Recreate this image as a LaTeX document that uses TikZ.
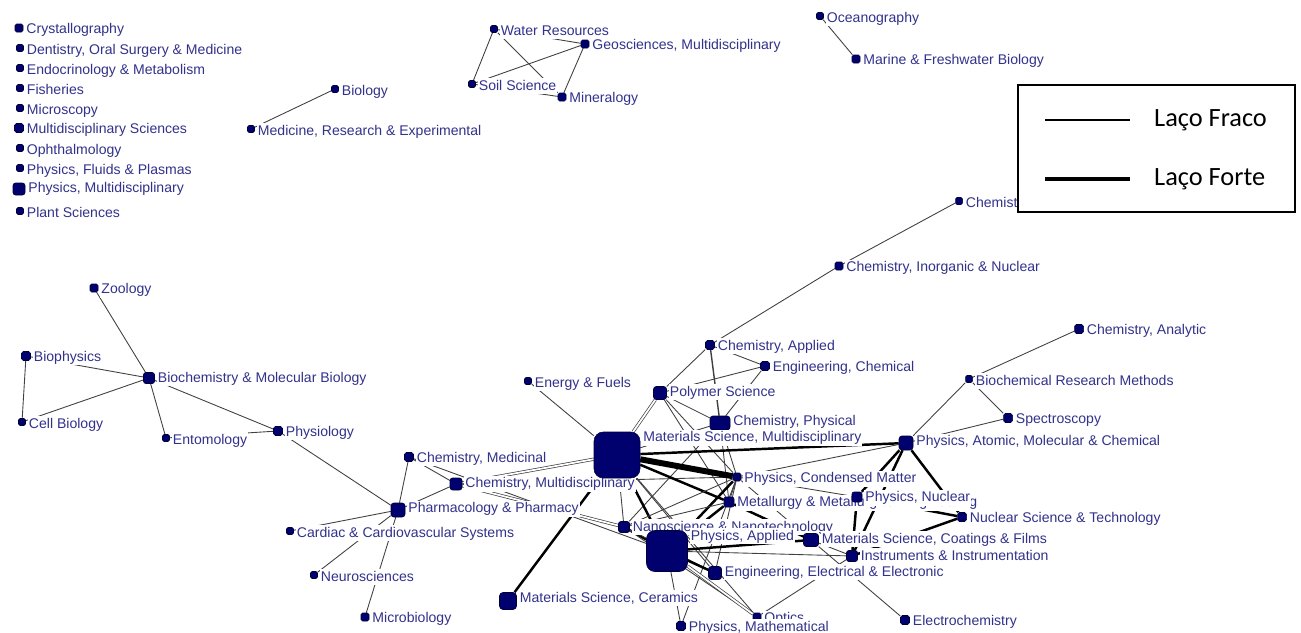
\documentclass[tikz,border=0pt]{standalone}
\usepackage{fontspec}
\setmainfont{Liberation Sans}
\newfontfamily\legfont{Carlito}
\usetikzlibrary{positioning}

\definecolor{azul}{RGB}{0,0,110}
\definecolor{texto}{RGB}{50,50,140}

\pgfdeclarelayer{fundo}
\pgfsetlayers{fundo,main}

\tikzset{
  sq/.style={rectangle, fill=azul, draw=azul!50!black, line width=0.3pt, inner sep=0pt,
    minimum size=#1*0.02cm, rounded corners=#1*0.004cm},
  rot/.style={anchor=west, xshift=1pt, yshift=-3.5pt, fill=white, inner sep=0.6pt,
    text=texto, font=\fontsize{8}{9}\selectfont, text height=6pt, text depth=1.8pt},
  fraco/.style={draw=black!75, line width=0.5pt},
  forte/.style={draw=black, line width=1.4pt},
  fortissimo/.style={draw=black, line width=3.4pt},
  duplo/.style={draw=black!75, line width=0.4pt, double=white, double distance=1pt},
  legtxt/.style={anchor=west, font=\legfont\fontsize{15}{17}\selectfont},
}

\begin{document}
\begin{tikzpicture}[x=0.02cm, y=-0.02cm]
  \useasboundingbox (0,0) rectangle (1301,632);

  % areas sem ligacao
  \node[sq=8] (crys) at (19,28) {};
  \node[rot] (crys-r) at (crys.north east) {Crystallography};
  \node[sq=7] (dent) at (20,48) {};
  \node[rot] (dent-r) at (dent.north east) {Dentistry, Oral Surgery \& Medicine};
  \node[sq=7] (endo) at (20,68) {};
  \node[rot] (endo-r) at (endo.north east) {Endocrinology \& Metabolism};
  \node[sq=7] (fish) at (20,88) {};
  \node[rot] (fish-r) at (fish.north east) {Fisheries};
  \node[sq=7] (micr) at (20,108) {};
  \node[rot] (micr-r) at (micr.north east) {Microscopy};
  \node[sq=9] (msci) at (19,128) {};
  \node[rot] (msci-r) at (msci.north east) {Multidisciplinary Sciences};
  \node[sq=7] (opht) at (20,148) {};
  \node[rot] (opht-r) at (opht.north east) {Ophthalmology};
  \node[sq=7] (fluid) at (20,168) {};
  \node[rot] (fluid-r) at (fluid.north east) {Physics, Fluids \& Plasmas};
  \node[sq=12] (pmult) at (19,189) {};
  \node[rot] (pmult-r) at (pmult.north east) {Physics, Multidisciplinary};
  \node[sq=7] (plant) at (20,211) {};
  \node[rot] (plant-r) at (plant.north east) {Plant Sciences};

  % componentes pequenos
  \node[sq=7] (biol) at (335,89) {};
  \node[rot] (biol-r) at (biol.north east) {Biology};
  \node[sq=7] (medic) at (251,129) {};
  \node[rot] (medic-r) at (medic.north east) {Medicine, Research \& Experimental};
  \node[sq=7] (water) at (494,29) {};
  \node[rot] (water-r) at (water.north east) {Water Resources};
  \node[sq=8] (geo) at (585,44) {};
  \node[rot] (geo-r) at (geo.north east) {Geosciences, Multidisciplinary};
  \node[sq=7] (soil) at (472,84) {};
  \node[rot] (soil-r) at (soil.north east) {Soil Science};
  \node[sq=8] (miner) at (562,97) {};
  \node[rot] (miner-r) at (miner.north east) {Mineralogy};
  \node[sq=7] (ocean) at (820,16) {};
  \node[rot] (ocean-r) at (ocean.north east) {Oceanography};
  \node[sq=8] (marine) at (856,59) {};
  \node[rot] (marine-r) at (marine.north east) {Marine \& Freshwater Biology};

  % lado direito
  \node[sq=7] (quim) at (959,201) {};
  \node[rot] (quim-r) at (quim.north east) {Chemistry};
  \node[sq=8] (inorg) at (839,266) {};
  \node[rot] (inorg-r) at (inorg.north east) {Chemistry, Inorganic \& Nuclear};
  \node[sq=9] (anal) at (1079,329) {};
  \node[rot] (anal-r) at (anal.north east) {Chemistry, Analytic};
  \node[sq=7] (biores) at (969,379) {};
  \node[rot] (biores-r) at (biores.north east) {Biochemical Research Methods};
  \node[sq=9] (spec) at (1008,418) {};
  \node[rot] (spec-r) at (spec.north east) {Spectroscopy};
  \node[sq=14] (atom) at (906,443) {};
  \node[rot] (atom-r) at (atom.north east) {Physics, Atomic, Molecular \& Chemical};

  % lado esquerdo
  \node[sq=8] (zoo) at (94,288) {};
  \node[rot] (zoo-r) at (zoo.north east) {Zoology};
  \node[sq=9] (bioph) at (26,356) {};
  \node[rot] (bioph-r) at (bioph.north east) {Biophysics};
  \node[sq=7] (cell) at (22,422) {};
  \node[rot] (cell-r) at (cell.north east) {Cell Biology};
  \node[sq=11] (bioch) at (149,378) {};
  \node[rot] (bioch-r) at (bioch.north east) {Biochemistry \& Molecular Biology};
  \node[sq=7] (ento) at (166,438) {};
  \node[rot] (ento-r) at (ento.north east) {Entomology};
  \node[sq=9] (physio) at (278,431) {};
  \node[rot] (physio-r) at (physio.north east) {Physiology};
  \node[sq=9] (chmed) at (409,457) {};
  \node[rot] (chmed-r) at (chmed.north east) {Chemistry, Medicinal};
  \node[sq=12] (chmult) at (456,484) {};
  \node[rot] (chmult-r) at (chmult.north east) {Chemistry, Multidisciplinary};
  \node[sq=14] (pharm) at (398,510) {};
  \node[rot] (pharm-r) at (pharm.north east) {Pharmacology \& Pharmacy};
  \node[sq=7] (card) at (290,531) {};
  \node[rot] (card-r) at (card.north east) {Cardiac \& Cardiovascular Systems};
  \node[sq=7] (neuro) at (314,575) {};
  \node[rot] (neuro-r) at (neuro.north east) {Neurosciences};
  \node[sq=8] (microb) at (365,617) {};
  \node[rot] (microb-r) at (microb.north east) {Microbiology};

  % centro
  \node[sq=7] (energy) at (528,381) {};
  \node[rot] (energy-r) at (energy.north east) {Energy \& Fuels};
  \node[sq=9] (chapp) at (710,345) {};
  \node[rot] (chapp-r) at (chapp.north east) {Chemistry, Applied};
  \node[sq=9] (engch) at (765,366) {};
  \node[rot] (engch-r) at (engch.north east) {Engineering, Chemical};
  \node[sq=13] (polym) at (660,393) {};
  \node[rot] (polym-r) at (polym.north east) {Polymer Science};
  \node[sq=14, minimum width=20*0.02cm] (chphys) at (720,423) {};
  \node[rot] (chphys-r) at (chphys.north east) {Chemistry, Physical};
  \node[sq=46] (msm) at (617,455) {};
  \node[rot] (msm-r) at (msm.north east) {Materials Science, Multidisciplinary};
  \node[sq=8] (cond) at (737,477) {};
  \node[rot] (cond-r) at (cond.north east) {Physics, Condensed Matter};
  \node[sq=10] (metal) at (729,502) {};
  \node[rot] (metal-r) at (metal.north east) {Metallurgy \& Metallurgical Engineering};
  \node[sq=11] (nano) at (624,527) {};
  \node[rot] (nano-r) at (nano.north east) {Nanoscience \& Nanotechnology};
  \node[sq=10] (pnuc) at (857,497) {};
  \node[rot] (pnuc-r) at (pnuc.north east) {Physics, Nuclear};
  \node[sq=9] (nucsci) at (962,517) {};
  \node[rot] (nucsci-r) at (nucsci.north east) {Nuclear Science \& Technology};
  \node[sq=13, minimum width=15*0.02cm] (coat) at (811,540) {};
  \node[rot] (coat-r) at (coat.north east) {Materials Science, Coatings \& Films};
  \node[sq=41] (papp) at (667,551) {};
  \node[rot] (papp-r) at (papp.north east) {Physics, Applied};
  \node[sq=11] (instr) at (852,556) {};
  \node[rot] (instr-r) at (instr.north east) {Instruments \& Instrumentation};
  \node[sq=13] (engel) at (715,573) {};
  \node[rot] (engel-r) at (engel.north east) {Engineering, Electrical \& Electronic};
  \node[sq=17] (ceram) at (508,601) {};
  \node[rot] (ceram-r) at (ceram.north east) {Materials Science, Ceramics};
  \node[sq=8] (optics) at (757,617) {};
  \node[rot] (optics-r) at (optics.north east) {Optics};
  \node[sq=9] (pmath) at (681,626) {};
  \node[rot] (pmath-r) at (pmath.north east) {Physics, Mathematical};
  \node[sq=9] (electro) at (905,620) {};
  \node[rot] (electro-r) at (electro.north east) {Electrochemistry};

  % lacos
  \begin{pgfonlayer}{fundo}
    \draw[fraco] (biol) -- (medic);
    \draw[fraco] (water) -- (soil);
    \draw[fraco] (water) -- (miner);
    \draw[fraco] (water) -- (geo);
    \draw[fraco] (soil) -- (geo);
    \draw[fraco] (geo) -- (miner);
    \draw[fraco] (soil) -- (miner);
    \draw[fraco] (ocean) -- (marine);
    \draw[fraco] (quim) -- (inorg);
    \draw[fraco] (inorg) -- (chapp);
    \draw[fraco] (anal) -- (biores);
    \draw[fraco] (biores) -- (spec);
    \draw[fraco] (biores) -- (atom);
    \draw[fraco] (spec) -- (atom);
    \draw[fraco] (zoo) -- (bioch);
    \draw[fraco] (bioph) -- (bioch);
    \draw[fraco] (bioph) -- (cell);
    \draw[fraco] (cell) -- (bioch);
    \draw[fraco] (bioch) -- (ento);
    \draw[fraco] (bioch) -- (physio);
    \draw[fraco] (ento) -- (physio);
    \draw[fraco] (physio) -- (pharm);
    \draw[fraco] (pharm) -- (chmed);
    \draw[fraco] (pharm) -- (chmult);
    \draw[fraco] (chmed) -- (chmult);
    \draw[fraco] (pharm) -- (card);
    \draw[fraco] (pharm) -- (neuro);
    \draw[fraco] (pharm) -- (microb);
    \draw[duplo] (chmult) -- (msm);
    \draw[duplo] (chmult) -- (nano);
    \draw[fraco] (chmed) -- (papp);
    \draw[fraco] (chmult) -- (cond);
    \draw[forte] (ceram) -- (msm);
    \draw[fraco] (energy) -- (msm);
    \draw[duplo] (polym) -- (msm);
    \draw[fraco] (polym) -- (chapp);
    \draw[fraco] (polym) -- (engch);
    \draw[fraco] (polym) -- (chphys);
    \draw[fraco] (polym) -- (cond);
    \draw[fraco] (polym) -- (metal);
    \draw[fraco] (chapp) -- (engch);
    \draw[fraco, line width=0.8pt] (chapp) -- (chphys);
    \draw[fraco] (engch) -- (chphys);
    \draw[fraco] (chphys) -- (msm);
    \draw[fraco] (chphys) -- (cond);
    \draw[fraco] (chphys) -- (metal);
    \draw[fraco] (chphys) -- (nano);
    \draw[fortissimo] (msm) -- (cond);
    \draw[forte] (msm) -- (metal);
    \draw[forte] (msm) -- (papp);
    \draw[forte] (msm) -- (atom);
    \draw[fraco] (msm) -- (nano);
    \draw[fraco] (msm) -- (engel);
    \draw[fraco] (msm) -- (optics);
    \draw[fraco] (cond) -- (nano);
    \draw[forte] (cond) -- (papp);
    \draw[fraco] (cond) -- (engel);
    \draw[fraco] (cond) -- (pmath);
    \draw[fraco] (cond) -- (atom);
    \draw[fraco] (cond) -- (pnuc);
    \draw[fraco] (cond) -- (coat);
    \draw[fraco] (cond) -- (metal);
    \draw[forte] (metal) -- (papp);
    \draw[forte] (metal) -- (coat);
    \draw[fraco] (metal) -- (nano);
    \draw[forte] (nano) -- (papp);
    \draw[fraco] (nano) -- (optics);
    \draw[fraco] (nano) -- (engel);
    \draw[forte] (papp) -- (coat);
    \draw[fraco] (papp) -- (instr);
    \draw[forte] (papp) -- (engel);
    \draw[fraco] (papp) -- (pmath);
    \draw[duplo] (papp) -- (optics);
    \draw[fraco] (coat) -- (instr);
    \draw[fraco] (coat) -- (electro);
    \draw[fraco] (optics) -- (instr);
    \draw[forte] (pnuc) -- (instr);
    \draw[forte] (pnuc) -- (nucsci);
    \draw[forte] (atom) -- (pnuc);
    \draw[forte] (atom) -- (instr);
    \draw[forte] (atom) -- (nucsci);
    \draw[forte] (instr) -- (nucsci);
  \end{pgfonlayer}

  % legenda
  \node[draw, line width=0.9pt, fill=white, minimum width=277*0.02cm, minimum height=127*0.02cm] (legenda) at (1156.5,148.5) {};
  \coordinate (f1) at (1045,120);
  \coordinate (f2) at (1130,120);
  \coordinate (g1) at (1045,179);
  \coordinate (g2) at (1130,179);
  \draw[line width=0.6pt] (f1) -- (f2);
  \draw[line width=2pt] (g1) -- (g2);
  \node[legtxt, right=0.36cm of f2] (fraco-t) {Laço Fraco};
  \node[legtxt, right=0.36cm of g2] (forte-t) {Laço Forte};
\end{tikzpicture}
\end{document}
